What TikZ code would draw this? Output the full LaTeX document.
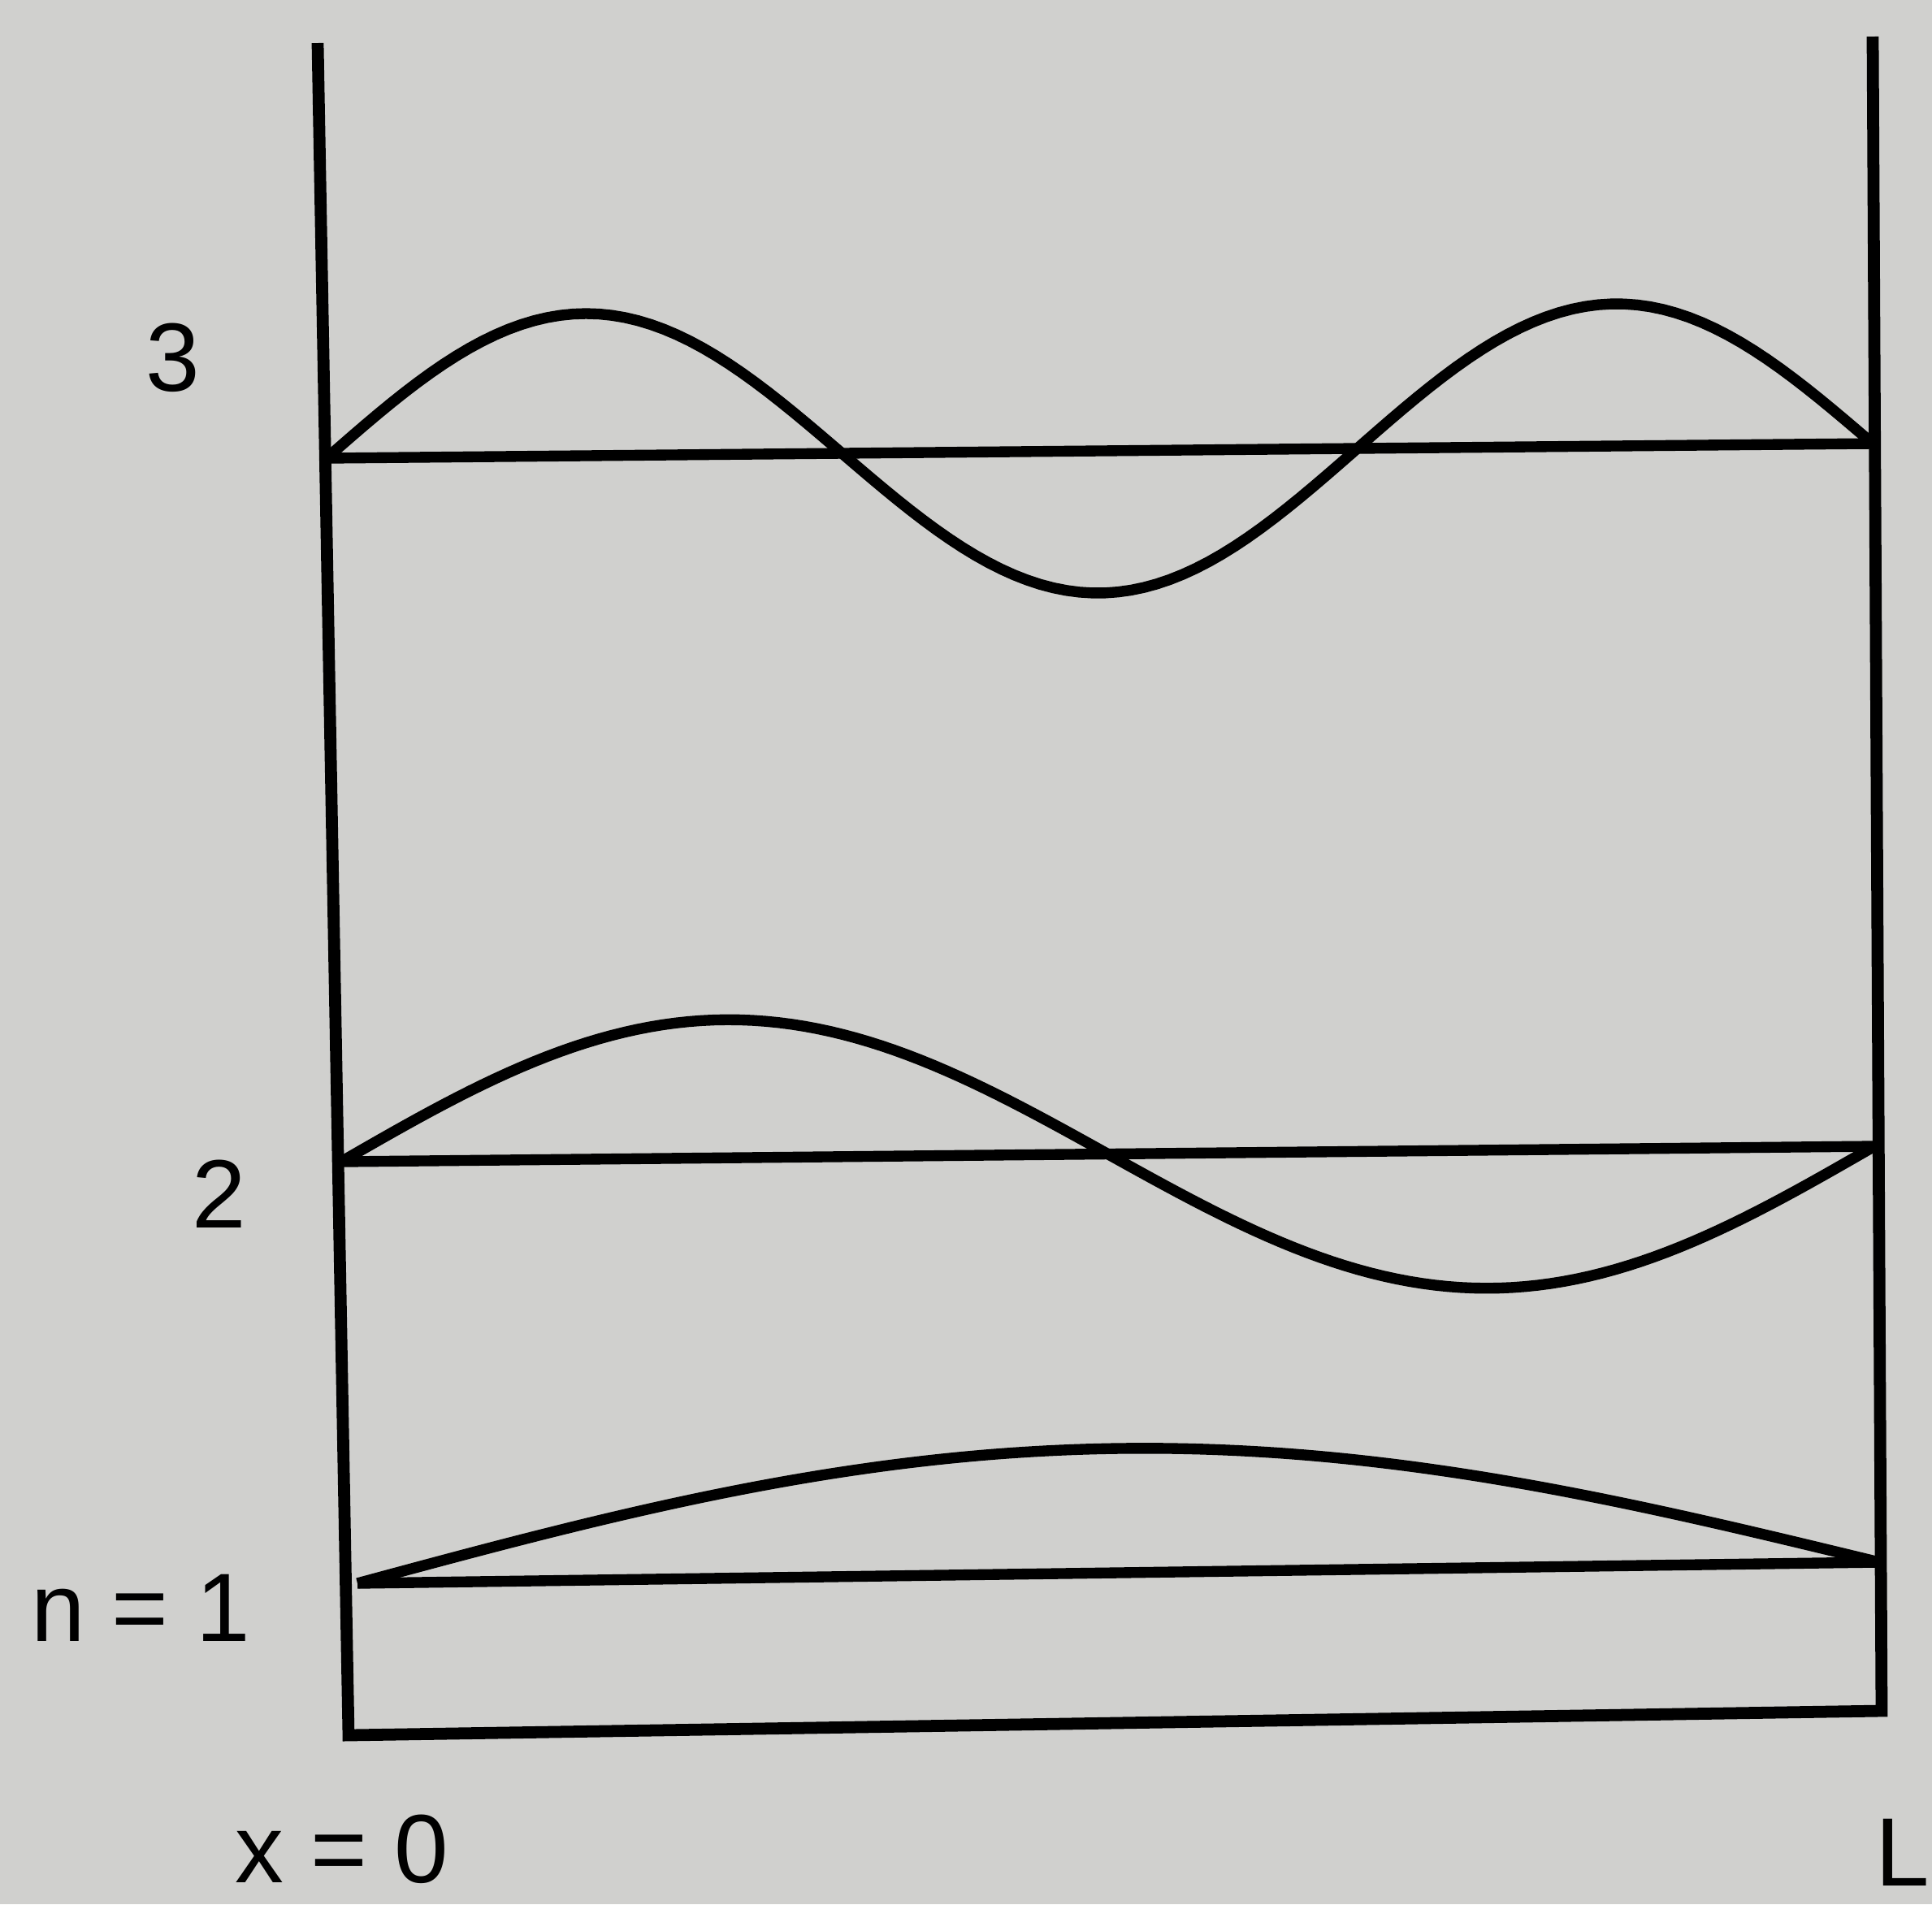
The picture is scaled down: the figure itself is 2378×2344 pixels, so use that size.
\documentclass[tikz,border=0pt]{standalone}
\usepackage{fontspec}
\setmainfont{Liberation Sans}
\definecolor{paper}{RGB}{208,208,206}
\begin{document}
\begin{tikzpicture}[x=0.01cm,y=-0.01cm,
  wall/.style={line width=4.2pt,line join=miter},
  base/.style={line width=3.8pt},
  wave/.style={line width=3.8pt,line join=round},
  lbl/.style={font=\fontsize{34}{40}\selectfont,inner sep=0pt}]
\fill[paper] (0,0) rectangle (2378,2344);
\useasboundingbox (0,0) rectangle (2378,2344);
% walls
\coordinate (LT) at (391,53);
\coordinate (BL) at (429,2136);
\coordinate (BR) at (2316,2106);
\coordinate (RT) at (2305,45);
\draw[wall] (LT) -- (BL) -- (BR) -- (RT);
% baselines
\coordinate (A3) at (402,564);
\coordinate (B3) at (2305,546);
\coordinate (A2) at (420,1430);
\coordinate (B2) at (2307,1411);
\coordinate (A1) at (440,1949);
\coordinate (B1) at (2313,1923);
\draw[base] (A3) -- (B3);
\draw[base] (A2) -- (B2);
\draw[base] (A1) -- (B1);
% waves
\draw[wave] plot[domain=0:1,samples=120,variable=\t]
  ({402+\t*1903},{564-18*\t-175*sin(540*\t)});
\draw[wave] plot[domain=0:1,samples=120,variable=\t]
  ({420+\t*1887},{1430-19*\t-170*sin(360*\t)});
\draw[wave] plot[domain=0:1,samples=120,variable=\t]
  ({440+\t*1873},{1949-26*\t-153*sin(180*\t)});
% labels
\node[lbl] (l3) at (213,440) {3};
\node[lbl] (l2) at (270,1470) {2};
\node[lbl] (l1) at (173,1979) {n = 1};
\node[lbl] (lx) at (421,2276) {x = 0};
\node[lbl] (lL) at (2342,2280) {L};
\end{tikzpicture}
\end{document}
